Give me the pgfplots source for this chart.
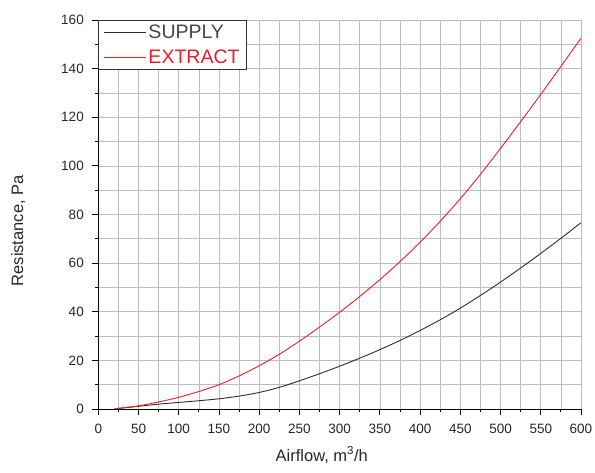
\documentclass[border=0pt]{standalone}
\usepackage{pgfplots}
\pgfplotsset{compat=1.18}
\usepackage{fontspec}
\setmainfont{Liberation Sans}
\definecolor{supplyc}{RGB}{45,45,45}
\definecolor{supplyt}{RGB}{70,70,70}
\definecolor{extractc}{RGB}{232,30,42}
\definecolor{gridc}{RGB}{188,188,188}
\begin{document}
\begin{tikzpicture}
\begin{axis}[
  at={(0,0)}, anchor=south west,
  scale only axis, width=482.7pt, height=389pt,
  xmin=0, xmax=600, ymin=0, ymax=160,
  xtick={0,50,...,600}, ytick={0,20,...,160},
  minor x tick num=1, minor y tick num=1,
  grid=both,
  major grid style={gridc, line width=0.7pt},
  minor grid style={gridc, line width=0.7pt},
  axis x line*=bottom, axis y line*=left,
  axis line style={-, black, line width=0.8pt},
  tick align=outside,
  major tick length=6pt, minor tick length=3.5pt,
  tick style={black, line width=0.8pt},
  /pgf/number format/assume math mode=true,
  tick label style={font=\fontsize{13.5}{16}\selectfont, text=black!85},
  xticklabel style={yshift=-6pt},
  yticklabel style={xshift=-5pt},
  label style={font=\fontsize{16.5}{19}\selectfont, text=black!85},
  xlabel={Airflow, m\textsuperscript{3}/h},
  ylabel={Resistance, Pa},
  x label style={at={(axis description cs:0.463,0)}, anchor=center, yshift=-46pt},
  y label style={at={(axis description cs:0,0.458)}, anchor=center, yshift=80pt},
  legend style={at={(axis description cs:0,1)}, anchor=north west,
    draw=black!80, line width=0.6pt, fill=white,
    font=\fontsize{19.5}{22}\selectfont,
    inner xsep=5pt, inner ysep=3pt, row sep=5pt,
    cells={anchor=west},
    /tikz/every even column/.append style={column sep=4pt}},
  legend image code/.code={\draw[#1] (0pt,0pt) -- (42pt,0pt);},
]
\addplot[supplyc, line width=0.9pt, smooth] coordinates {
(20,0) (25,0.2) (50,1.1) (75,2.0) (100,2.7) (125,3.4) (150,4.2) (175,5.3)
(200,6.8) (225,8.9) (250,11.6) (275,14.5) (300,17.6) (325,20.9) (350,24.4)
(375,28.2) (400,32.3) (425,36.7) (450,41.5) (475,46.7) (500,52.2) (525,58.0)
(550,64.0) (575,70.2) (600,76.6)
};
\addlegendentry{\textcolor{supplyt}{SUPPLY}}
\addplot[extractc, line width=0.9pt, smooth] coordinates {
(20,0) (25,0.3) (50,1.3) (75,2.9) (100,4.8) (125,7.2) (150,10.0) (175,13.6)
(200,17.8) (225,22.5) (250,27.9) (275,33.7) (300,39.8) (325,46.3) (350,53.2)
(375,60.6) (400,68.6) (425,77.2) (450,86.5) (475,96.5) (500,107.2) (525,118.2)
(550,129.4) (575,140.9) (600,152.5)
};
\addlegendentry{\textcolor{extractc}{EXTRACT}}
\end{axis}
\pgfresetboundingbox
\path[use as bounding box] (-98.3pt,-64pt) rectangle (496.7pt,409pt);
\end{tikzpicture}
\end{document}
